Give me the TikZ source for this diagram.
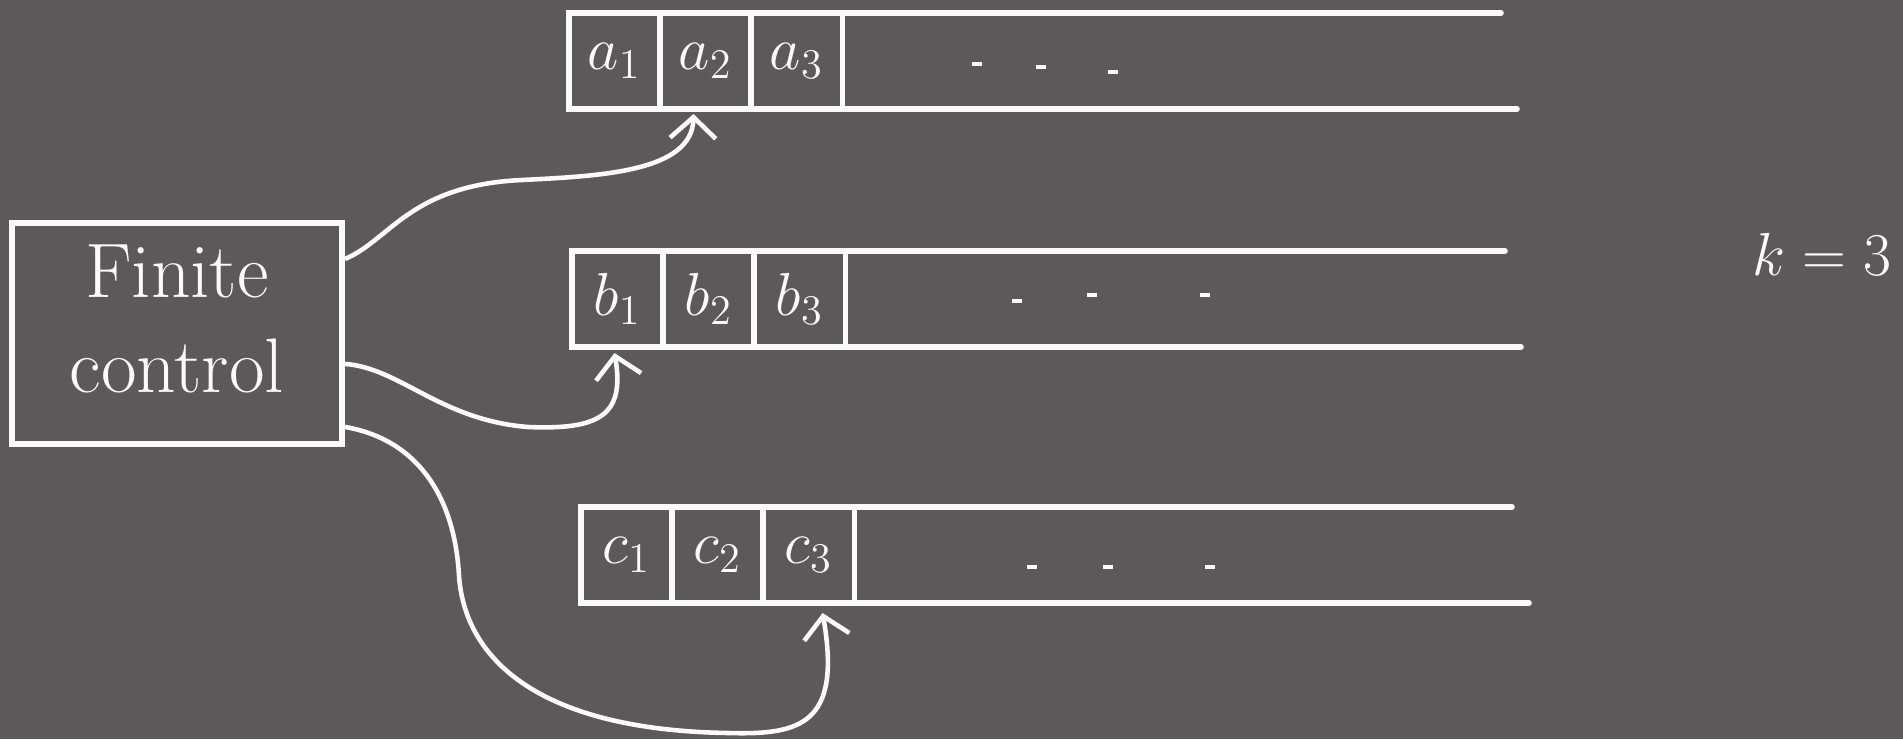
\documentclass[tikz,border=0pt]{standalone}
\usepackage{amsmath}
\usepackage{tikz}
\usepackage{xcolor}
\usetikzlibrary{arrows.meta,calc,positioning}
\definecolor{tmboard}{RGB}{94,89,89}
\definecolor{tmchalk}{RGB}{250,250,250}
\tikzset{
  tmctrl/.style={draw=tmchalk, line width=1.5pt, text=tmchalk, align=center, minimum width=3.3cm, minimum height=2.21cm, inner sep=0pt, outer sep=0pt, text depth=.3cm, font=\fontsize{22}{27}\selectfont},
  tmcell/.style={draw=tmchalk, line width=1.5pt, text=tmchalk, minimum width=.91cm, minimum height=.96cm, inner sep=0pt, outer sep=0pt, font=\fontsize{18}{22}\selectfont},
  tmtape/.style={draw=tmchalk, line width=1.5pt, line cap=round},
  tmdot/.style={fill=tmchalk, inner sep=0pt, minimum width=.1cm, minimum height=.035cm},
  tmarr/.style={-{Straight Barb[length=6pt,width=13pt]}, line width=1.3pt, draw=tmchalk},
  tmnote/.style={text=tmchalk, font=\fontsize{17}{20}\selectfont}
}

\begin{document}
\begin{tikzpicture}[x=.01cm, y=-.01cm]
  \fill[tmboard] (0,0) rectangle (1903,739);
  \node[tmctrl] (ctrl) at (177,333.5) {Finite\\control};
  % tape a
  \node[tmcell] (a1) at (614.5,61) {$a_1$};
  \node[tmcell, right=0pt of a1] (a2) {$a_2$};
  \node[tmcell, right=0pt of a2] (a3) {$a_3$};
  \draw[tmtape] (a3.north east) -- +(659,0);
  \draw[tmtape] (a3.south east) -- +(675,0);
  \node[tmdot] (ad1) at (977,64) {};
  \node[tmdot] (ad2) at (1041,67) {};
  \node[tmdot] (ad3) at (1113,72) {};
  % tape b
  \node[tmcell] (b1) at (617.5,299) {$b_1$};
  \node[tmcell, right=0pt of b1] (b2) {$b_2$};
  \node[tmcell, right=0pt of b2] (b3) {$b_3$};
  \draw[tmtape] (b3.north east) -- +(660,0);
  \draw[tmtape] (b3.south east) -- +(676,0);
  \node[tmdot] (bd1) at (1017,301) {};
  \node[tmdot] (bd2) at (1092,295) {};
  \node[tmdot] (bd3) at (1205,295) {};
  % tape c
  \node[tmcell] (c1) at (626.5,555) {$c_1$};
  \node[tmcell, right=0pt of c1] (c2) {$c_2$};
  \node[tmcell, right=0pt of c2] (c3) {$c_3$};
  \draw[tmtape] (c3.north east) -- +(658,0);
  \draw[tmtape] (c3.south east) -- +(675,0);
  \node[tmdot] (cd1) at (1032,567) {};
  \node[tmdot] (cd2) at (1108,567) {};
  \node[tmdot] (cd3) at (1210,567) {};
  \node[tmnote] (k) at (1822,254) {$k=3$};
  % heads
  \draw[tmarr] ($(ctrl.north east)+(3,36)$) .. controls (390,240) and (410,185) .. (522,180)
    .. controls (600,176) and (692,172) .. ($(a2.south)+(-12,5)$);
  \draw[tmarr] ($(ctrl.north east)+(3,141)$) .. controls (400,368) and (440,420) .. (528,427)
    .. controls (600,430) and (625,415) .. ($(b1.south)+(-3,6)$);
  \draw[tmarr] ($(ctrl.north east)+(3,204)$) .. controls (420,440) and (455,500) .. (459,576)
    .. controls (465,660) and (540,730) .. (728,733)
    .. controls (800,735) and (842,725) .. ($(c3.south)+(14,10)$);
\end{tikzpicture}
\end{document}
